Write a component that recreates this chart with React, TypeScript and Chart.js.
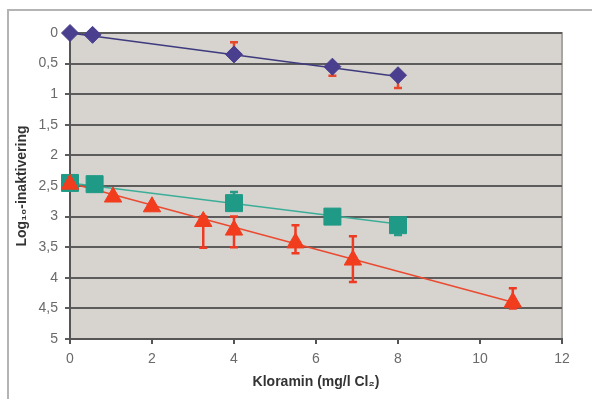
import React, { useEffect, useRef } from "react";
import { Chart, registerables } from "chart.js";

Chart.register(...registerables);

// Diamonds (blue)
const blueX = [0, 0.55, 4, 6.4, 8];
const blueY = [0, 0.03, 0.35, 0.55, 0.69];
const blueErrLow = [0, 0.03, 0.15, 0.55, 0.69];
const blueErrHigh = [0, 0.03, 0.35, 0.7, 0.9];
const blueTrendX = [0, 8];
const blueTrendY = [0.0, 0.71];

// Squares (teal)
const tealX = [0, 0.6, 4, 6.4, 8];
const tealY = [2.45, 2.47, 2.78, 3.0, 3.14];
const tealErrLow = [2.45, 2.47, 2.6, 3.0, 3.14];
const tealErrHigh = [2.45, 2.47, 2.78, 3.0, 3.3];
const tealTrendX = [0, 8];
const tealTrendY = [2.45, 3.12];

// Triangles (red)
const redX = [0, 1.05, 2, 3.25, 4, 5.5, 6.9, 10.8];
const redY = [2.47, 2.68, 2.84, 3.08, 3.22, 3.43, 3.71, 4.4];
const redErrLow = [2.47, 2.68, 2.84, 3.0, 3.0, 3.14, 3.32, 4.17];
const redErrHigh = [2.47, 2.68, 2.84, 3.51, 3.5, 3.6, 4.07, 4.5];
const redTrendX = [0, 10.8];
const redTrendY = [2.45, 4.4];

const xTicks = [0, 2, 4, 6, 8, 10, 12];
const yTicks = [0, 0.5, 1, 1.5, 2, 2.5, 3, 3.5, 4, 4.5, 5];

const pts = (xs: number[], ys: number[]) => xs.map((x, i) => ({ x, y: ys[i] }));

const errorBars = [
  { xs: blueX, lo: blueErrLow, hi: blueErrHigh, color: "#e8482c" },
  { xs: tealX, lo: tealErrLow, hi: tealErrHigh, color: "#2a9a88" },
  { xs: redX, lo: redErrLow, hi: redErrHigh, color: "#ee3a22" },
];

const bgPlugin = {
  id: "bgPlugin",
  beforeDraw(chart: any) {
    const { ctx, chartArea } = chart;
    ctx.save();
    ctx.fillStyle = "#ffffff";
    ctx.fillRect(0, 0, chart.width, chart.height);
    ctx.strokeStyle = "#b4b4b4";
    ctx.lineWidth = 2;
    ctx.beginPath();
    ctx.moveTo(8, chart.height);
    ctx.lineTo(8, 10);
    ctx.lineTo(chart.width, 10);
    ctx.stroke();
    ctx.fillStyle = "#d7d3cf";
    ctx.fillRect(chartArea.left, chartArea.top, chartArea.right - chartArea.left, chartArea.bottom - chartArea.top);
    ctx.strokeStyle = "#a8a6a4";
    ctx.lineWidth = 2;
    ctx.beginPath();
    ctx.moveTo(chartArea.left, chartArea.top);
    ctx.lineTo(chartArea.right, chartArea.top);
    ctx.lineTo(chartArea.right, chartArea.bottom);
    ctx.stroke();
    ctx.restore();
  },
};

const errPlugin = {
  id: "errPlugin",
  beforeDatasetsDraw(chart: any) {
    const { ctx } = chart;
    const xs = chart.scales.x;
    const ys = chart.scales.y;
    ctx.save();
    errorBars.forEach((eb) => {
      ctx.strokeStyle = eb.color;
      ctx.lineWidth = 2.5;
      eb.xs.forEach((x, i) => {
        if (eb.lo[i] === eb.hi[i]) return;
        const px = xs.getPixelForValue(x);
        const p1 = ys.getPixelForValue(eb.lo[i]);
        const p2 = ys.getPixelForValue(eb.hi[i]);
        ctx.beginPath();
        ctx.moveTo(px, p1);
        ctx.lineTo(px, p2);
        ctx.moveTo(px - 4, p1);
        ctx.lineTo(px + 4, p1);
        ctx.moveTo(px - 4, p2);
        ctx.lineTo(px + 4, p2);
        ctx.stroke();
      });
    });
    ctx.restore();
  },
};

export default function App() {
  const ref = useRef<HTMLCanvasElement>(null);
  useEffect(() => {
    document.body.style.margin = "0";
    const c = new Chart(ref.current!, {
      type: "scatter",
      data: {
        datasets: [
          { data: pts(blueTrendX, blueTrendY), showLine: true, borderColor: "#3d3a7e", borderWidth: 1.5, pointRadius: 0, order: 5, clip: false },
          { data: pts(tealTrendX, tealTrendY), showLine: true, borderColor: "#3aae98", borderWidth: 1.5, pointRadius: 0, order: 5, clip: false },
          { data: pts(redTrendX, redTrendY), showLine: true, borderColor: "#ea4a30", borderWidth: 1.5, pointRadius: 0, order: 5, clip: false },
          { data: pts(blueX, blueY), pointStyle: "rectRot", pointRadius: 8.5, backgroundColor: "#4a3f8e", borderColor: "#4a3f8e", order: 1, clip: false },
          { data: pts(tealX, tealY), pointStyle: "rect", pointRadius: 12, backgroundColor: "#1f9a86", borderColor: "#1f9a86", order: 2, clip: false },
          { data: pts(redX, redY), pointStyle: "triangle", pointRadius: 10, backgroundColor: "#f23c1e", borderColor: "#f23c1e", order: 0, clip: false },
        ],
      },
      options: {
        animation: false,
        responsive: false,
        maintainAspectRatio: false,
        layout: { padding: { left: 10, top: 33, right: 30, bottom: 4 } },
        plugins: { legend: { display: false }, tooltip: { enabled: false } },
        scales: {
          x: {
            type: "linear",
            min: 0,
            max: 12,
            afterBuildTicks: (s: any) => { s.ticks = xTicks.map((v) => ({ value: v })); },
            afterFit: (s: any) => { s.height = 56; },
            ticks: { color: "#6a6a6a", font: { family: "Liberation Sans", size: 14 }, padding: 7 },
            grid: { drawOnChartArea: false, drawTicks: true, tickLength: 5, color: "#555555", lineWidth: 2 },
            border: { display: true, color: "#555555", width: 2 },
            title: { display: true, text: "Kloramin (mg/l Cl₂)", color: "#333333", font: { family: "Liberation Sans", size: 14, weight: "bold" }, padding: { top: 4, bottom: 4 } },
          },
          y: {
            type: "linear",
            reverse: true,
            min: 0,
            max: 5,
            afterBuildTicks: (s: any) => { s.ticks = yTicks.map((v) => ({ value: v })); },
            afterFit: (s: any) => { s.width = 60; },
            ticks: { color: "#6a6a6a", font: { family: "Liberation Sans", size: 14 }, padding: 7, callback: (v: any) => String(v).replace(".", ",") },
            grid: { drawTicks: true, tickLength: 5, color: "#5c5c5c", lineWidth: 2 },
            border: { display: true, color: "#555555", width: 2 },
            title: { display: true, text: "Log₁₀-inaktivering", color: "#333333", font: { family: "Liberation Sans", size: 14, weight: "bold" }, padding: { top: 4, bottom: 4 } },
          },
        },
      },
      plugins: [bgPlugin, errPlugin],
    });
    return () => c.destroy();
  }, []);
  return (
    <div style={{ width: 592, height: 399, position: "relative" }}>
      <canvas ref={ref} width={592} height={399} style={{ display: "block", width: 592, height: 399 }} />
    </div>
  );
}
